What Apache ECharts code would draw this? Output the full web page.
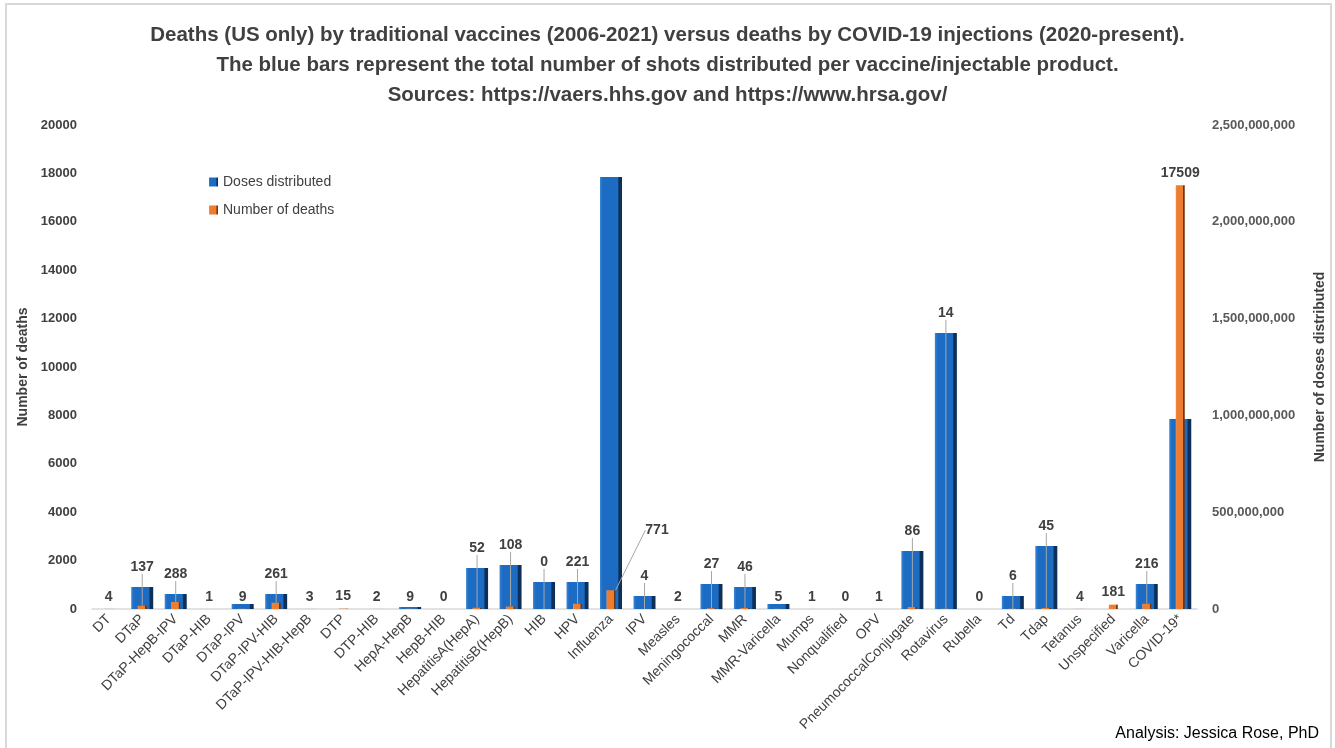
<!DOCTYPE html>
<html>
<head>
<meta charset="utf-8">
<script src="https://cdn.jsdelivr.net/npm/echarts@6/dist/echarts.min.js"></script>
<style>
  html, body { margin: 0; padding: 0; background: #fff; }
  #chart { position: absolute; left: 0; top: 0; width: 1335px; height: 748px; }
  .frame {
    position: absolute; left: 5px; top: 3px; width: 1323px; height: 748px;
    border: 2px solid #d9d9d9; border-bottom: none; pointer-events: none;
  }
</style>
</head>
<body>
<div id="chart"></div>
<div class="frame"></div>
<script>
// vaccine / product names on the x axis
const categories = [
  'DT', 'DTaP', 'DTaP-HepB-IPV', 'DTaP-HIB', 'DTaP-IPV', 'DTaP-IPV-HIB', 'DTaP-IPV-HIB-HepB',
  'DTP', 'DTP-HIB', 'HepA-HepB', 'HepB-HIB', 'HepatitisA(HepA)', 'HepatitisB(HepB)', 'HIB', 'HPV',
  'Influenza', 'IPV', 'Measles', 'Meningococcal', 'MMR', 'MMR-Varicella', 'Mumps', 'Nonqualified',
  'OPV', 'PneumococcalConjugate', 'Rotavirus', 'Rubella', 'Td', 'Tdap', 'Tetanus', 'Unspecified',
  'Varicella', 'COVID-19*'
]
// total doses distributed (right axis)
const doses = [
  0, 114000000, 77000000, 0, 26000000, 77000000, 0,
  0, 0, 10000000, 0, 212000000, 227000000, 140000000, 140000000,
  2231000000, 67000000, 0, 129000000, 114000000, 26000000, 0, 0,
  0, 300000000, 1426000000, 0, 67000000, 325000000, 0, 0,
  129000000, 981000000
]
// number of deaths (left axis)
const deaths = [
  4, 137, 288, 1, 9, 261, 3,
  15, 2, 9, 0, 52, 108, 0, 221,
  771, 4, 2, 27, 46, 5, 1, 0,
  1, 86, 14, 0, 6, 45, 4, 181,
  216, 17509
]
// labels that sit beside the bar instead of above it
const sideLabels = ['Influenza']

const txt = '#404040'
const font = "'Liberation Sans', Arial, sans-serif"

const chart = echarts.init(document.getElementById('chart'))

function barGradient(light, main, dark) {
  return new echarts.graphic.LinearGradient(0, 0, 1, 0, [
    { offset: 0, color: light },
    { offset: 0.12, color: main },
    { offset: 0.8, color: main },
    { offset: 0.86, color: dark },
    { offset: 1, color: dark }
  ])
}

function liftLabel(p) {
  const i = p.dataIndex
  const cx = p.rect.x + p.rect.width / 2
  if (sideLabels.indexOf(categories[i]) >= 0) {
    return { x: cx + 46, y: p.rect.y - 60, align: 'center', verticalAlign: 'middle' }
  }
  if (doses[i] < 60000000) return {}
  const top = chart.convertToPixel({ yAxisIndex: 1 }, doses[i])
  const y = top - 20
  const defY = p.labelRect.y + p.labelRect.height / 2
  if (y >= defY) return {}
  return { x: cx, y: y, align: 'center', verticalAlign: 'middle' }
}

const deathItems = deaths.map(function (v, i) {
  const moved = sideLabels.indexOf(categories[i]) >= 0 ||
    (doses[i] >= 60000000 && categories[i] !== 'COVID-19*')
  return { value: v, labelLine: { show: moved } }
})

const option = {
  backgroundColor: '#fff',
  textStyle: { fontFamily: font },
  title: {
    text: 'Deaths (US only) by traditional vaccines (2006-2021) versus deaths by COVID-19 injections (2020-present).\n' +
      'The blue bars represent the total number of shots distributed per vaccine/injectable product.\n' +
      'Sources: https://vaers.hhs.gov and https://www.hrsa.gov/',
    left: 'center',
    top: 15,
    textStyle: { fontSize: 20.5, fontWeight: 'bold', color: txt, lineHeight: 30, fontFamily: font }
  },
  legend: {
    orient: 'vertical',
    left: 204,
    top: 170,
    itemWidth: 9,
    itemHeight: 9,
    itemGap: 14,
    icon: 'rect',
    textStyle: { fontSize: 14, color: txt, fontFamily: font },
    data: ['Doses distributed', 'Number of deaths']
  },
  grid: { left: 92, right: 137, top: 125, bottom: 139 },
  xAxis: [
    {
      type: 'category',
      data: categories,
      axisLine: { lineStyle: { color: '#d9d9d9', width: 1.5 } },
      axisTick: { show: false },
      axisLabel: { rotate: 45, interval: 0, fontSize: 14, color: txt, margin: 8, fontFamily: font }
    },
    {
      type: 'category',
      data: categories,
      show: false
    }
  ],
  yAxis: [
    {
      type: 'value',
      name: 'Number of deaths',
      nameLocation: 'middle',
      nameGap: 56,
      nameTextStyle: { fontSize: 14, fontWeight: 'bold', color: txt, fontFamily: font },
      min: 0,
      max: 20000,
      interval: 2000,
      splitLine: { show: false },
      axisLine: { show: false },
      axisLabel: {
        fontSize: 13, fontWeight: 'bold', color: txt, margin: 15, fontFamily: font,
        formatter: function (v) { return String(v) }
      }
    },
    {
      type: 'value',
      name: 'Number of doses distributed',
      nameLocation: 'middle',
      nameGap: 116,
      nameTextStyle: { fontSize: 14, fontWeight: 'bold', color: txt, fontFamily: font },
      min: 0,
      max: 2500000000,
      interval: 500000000,
      splitLine: { show: false },
      axisLine: { show: false },
      axisLabel: {
        fontSize: 13, fontWeight: 'bold', color: '#595959', margin: 15, fontFamily: font,
        formatter: function (v) { return v.toLocaleString('en-US') }
      }
    }
  ],
  series: [
    {
      name: 'Doses distributed',
      type: 'bar',
      xAxisIndex: 0,
      yAxisIndex: 1,
      barWidth: 22,
      data: doses,
      itemStyle: { color: barGradient('#3d86d3', '#1c6cc3', '#0d2f58') }
    },
    {
      name: 'Number of deaths',
      type: 'bar',
      xAxisIndex: 1,
      yAxisIndex: 0,
      barWidth: 9,
      z: 3,
      data: deathItems,
      itemStyle: { color: barGradient('#f59a5a', '#ed7d31', '#6e3610') },
      label: {
        show: true,
        position: 'top',
        distance: 5,
        fontSize: 14,
        fontWeight: 'bold',
        color: txt,
        fontFamily: font
      },
      labelLine: { lineStyle: { color: '#a6a6a6', width: 1 } },
      labelLayout: liftLabel
    }
  ],
  graphic: [
    {
      type: 'text',
      right: 16,
      bottom: 6,
      style: { text: 'Analysis: Jessica Rose, PhD', fontSize: 16, fill: '#000', fontFamily: font }
    }
  ]
}

chart.setOption(option)
</script>
</body>
</html>
